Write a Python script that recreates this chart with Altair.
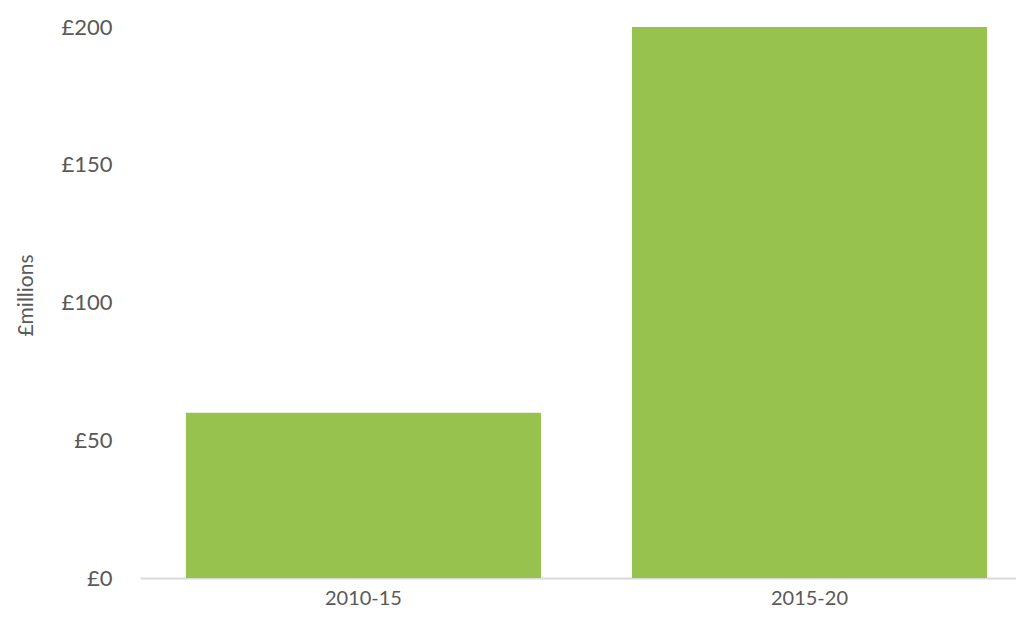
import altair as alt
import pandas as pd

categories = ["2010-15", "2015-20"]
values = [60, 200]
y_ticks = [0, 50, 100, 150, 200]

df = pd.DataFrame({"period": categories, "value": values})

chart = alt.Chart(df).mark_bar(color="#97C24D").encode(
    x=alt.X(
        "period:N",
        sort=categories,
        title=None,
        scale=alt.Scale(paddingInner=0.204, paddingOuter=0.084, align=0.613),
        axis=alt.Axis(
            labelAngle=0,
            labelFont="Lato",
            labelFontSize=20,
            labelColor="#595959",
            labelPadding=10,
            ticks=False,
            domainColor="#D9D9D9",
            domainWidth=2,
            grid=False,
        ),
    ),
    y=alt.Y(
        "value:Q",
        title="£millions",
        scale=alt.Scale(domain=[0, 200], nice=False),
        axis=alt.Axis(
            values=y_ticks,
            labelExpr="'£' + datum.value",
            labelFont="Lato",
            labelFontSize=22,
            labelColor="#595959",
            labelPadding=28,
            ticks=False,
            domain=False,
            grid=False,
            titleFont="Lato",
            titleFontSize=21,
            titleFontWeight="normal",
            titleColor="#595959",
            titleX=-104,
            titleY=268,
        ),
    ),
).properties(
    width=876,
    height=551,
    autosize=alt.AutoSizeParams(type="none"),
    padding={"left": 132, "top": 19, "right": 0, "bottom": 35},
).configure_view(stroke=None)

chart.save("out.html", embed_options={"renderer": "svg", "actions": False})
